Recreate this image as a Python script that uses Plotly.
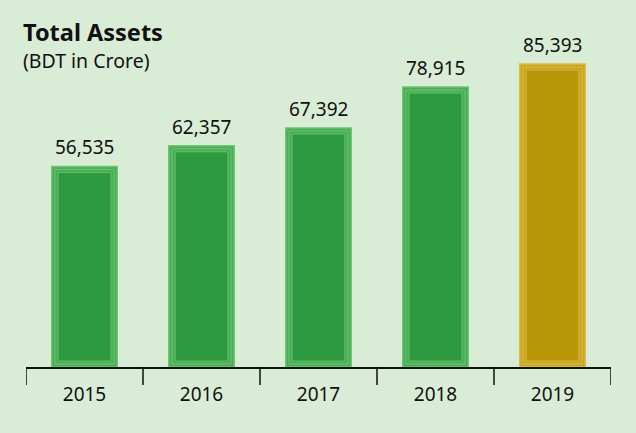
import plotly.graph_objects as go

years = ["2015", "2016", "2017", "2018", "2019"]
assets = [56535, 62357, 67392, 78915, 85393]
labels = ["56,535", "62,357", "67,392", "78,915", "85,393"]
face_colors = ["#2e9a40", "#2e9a40", "#2e9a40", "#2e9a40", "#b99508"]
bevel_colors = ["#4aae55", "#4aae55", "#4aae55", "#4aae55", "#c9a622"]
edge_colors = ["#6cc474", "#6cc474", "#6cc474", "#6cc474", "#dcbd45"]

BG = "#d9ecd5"
FONT = "Noto Sans"
W, H = 636, 433
ML, MR, MT, MB = 26, 25, 30, 66
plot_w = W - ML - MR
plot_h = H - MT - MB
BEVEL = 1700  # bevel thickness in data units (about 6 px)

def px_x(x):
    return (x - ML) / plot_w

def px_y(y):
    return (H - y - MB) / plot_h

fig = go.Figure()
# outer bevelled block
fig.add_trace(go.Bar(
    x=years, y=assets, width=0.56,
    marker=dict(color=bevel_colors, line=dict(color=edge_colors, width=1.5)),
    hoverinfo="skip", showlegend=False,
))
# thin highlight line inside the bevel
fig.add_trace(go.Bar(
    x=years, y=[v - BEVEL for v in assets], base=[BEVEL * 0.5] * len(assets),
    width=0.505,
    marker=dict(color="rgba(0,0,0,0)", line=dict(color=edge_colors, width=1)),
    hoverinfo="skip", showlegend=False,
))
# flat inner face
fig.add_trace(go.Bar(
    x=years, y=[v - 2 * BEVEL for v in assets], base=[BEVEL] * len(assets),
    width=0.45,
    marker=dict(color=face_colors, line=dict(color=edge_colors, width=0.8)),
    hoverinfo="skip", showlegend=False,
))

annotations = [
    dict(text="<b>Total Assets</b>", x=px_x(21), y=px_y(32), xref="paper", yref="paper",
         showarrow=False, font=dict(size=23.5, family=FONT, color="#111111"),
         xanchor="left", yanchor="middle"),
    dict(text="(BDT in Crore)", x=px_x(21), y=px_y(61), xref="paper", yref="paper",
         showarrow=False, font=dict(size=19.5, family=FONT, color="#111111"),
         xanchor="left", yanchor="middle"),
]
for i, (v, lab) in enumerate(zip(assets, labels)):
    annotations.append(dict(
        text=lab, x=i, y=v, xref="x", yref="y", showarrow=False,
        xanchor="center", yanchor="bottom", yshift=4,
        font=dict(size=19, family=FONT, color="#111111"),
    ))

fig.update_layout(
    width=W, height=H,
    paper_bgcolor=BG, plot_bgcolor=BG,
    margin=dict(l=ML, r=MR, t=MT, b=MB),
    barmode="overlay", bargap=0.44,
    font=dict(family=FONT, color="#111111"),
    xaxis=dict(
        type="category",
        showgrid=False, showline=True, linecolor="#111111", linewidth=1.5,
        ticks="", tickfont=dict(size=19, family=FONT, color="#111111"),
        ticklabelstandoff=9, range=[-0.5, 4.5], fixedrange=True,
    ),
    yaxis=dict(visible=False, range=[0, 95000], fixedrange=True),
    annotations=annotations,
)

# category boundary ticks below the axis
for i in range(len(years) + 1):
    fig.add_shape(type="line", xref="x", yref="paper",
                  x0=i - 0.5, x1=i - 0.5, y0=0, y1=-18 / plot_h,
                  line=dict(color="#111111", width=1.5))

fig.write_html("out.html", post_script="document.body.style.margin='0px';",
               config={"displayModeBar": False})
